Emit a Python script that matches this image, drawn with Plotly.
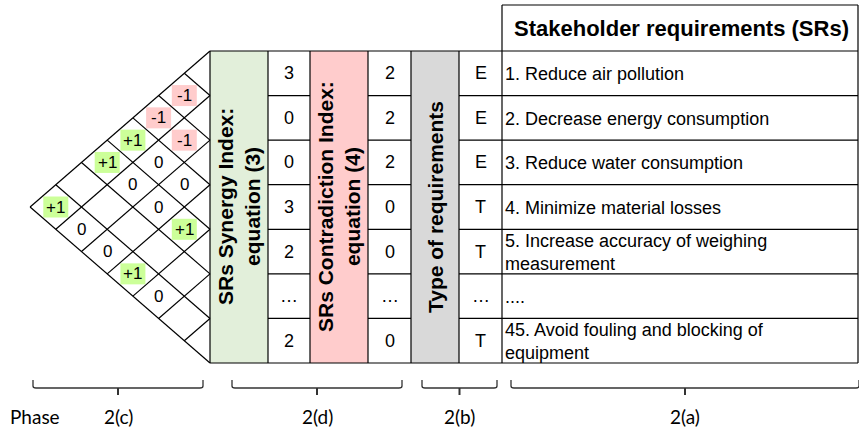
import plotly.graph_objects as go

# ---------------- data ----------------
requirements = [
    "1. Reduce air pollution",
    "2. Decrease energy consumption",
    "3. Reduce water consumption",
    "4. Minimize material losses",
    "5. Increase accuracy of weighing<br>measurement",
    "....",
    "45. Avoid fouling and blocking of<br>equipment",
]
req_type = ["E", "E", "E", "T", "T", "…", "T"]
synergy = ["3", "0", "0", "3", "2", "…", "2"]
contradiction = ["2", "2", "2", "0", "0", "…", "0"]
# upper-triangle relations: row i with requirement j > i
correlations = [
    ["-1", "-1", "+1", "+1", "", "+1"],
    ["-1", "0", "0", "", "0"],
    ["0", "0", "", "0"],
    ["+1", "", "+1"],
    ["", "0"],
    [""],
]
header = "Stakeholder requirements (SRs)"
col_titles = ["SRs Synergy Index:<br>equation (3)",
              "SRs Contradiction Index:<br>equation (4)",
              "Type of requirements"]
phase_labels = ["2(c)", "2(d)", "2(b)", "2(a)"]

# ---------------- layout geometry ----------------
W, H = 859, 430
TOP, BOT = 51, 363
N = len(requirements)
RH = (BOT - TOP) / N
XR = 210          # right edge of triangle / left edge of table
HW = 25.7         # half width of a diamond cell
cols = [210, 268, 310, 368, 411, 459, 502, 858]
HEAD_TOP = 5

LINE = dict(color="black", width=1.2)
FONT = "Liberation Sans, Arial, sans-serif"

shapes = []
annotations = []

def line(x0, y0, x1, y1, **kw):
    d = dict(LINE)
    d.update(kw)
    shapes.append(dict(type="line", xref="x", yref="y", x0=x0, y0=y0, x1=x1, y1=y1,
                       line=d, layer="above"))

def rect(x0, y0, x1, y1, fill):
    shapes.append(dict(type="rect", xref="x", yref="y", x0=x0, y0=y0, x1=x1, y1=y1,
                       fillcolor=fill, line=dict(width=0), layer="below"))

def row_y(k):
    return TOP + (k + 0.5) * RH

# coloured title columns
rect(cols[0], TOP, cols[1], BOT, "#e2efda")
rect(cols[2], TOP, cols[3], BOT, "#ffcccc")
rect(cols[4], TOP, cols[5], BOT, "#d9d9d9")

# header box
line(cols[6], HEAD_TOP, cols[7], HEAD_TOP)
line(cols[6], HEAD_TOP, cols[6], TOP)
line(cols[7], HEAD_TOP, cols[7], TOP)
annotations.append(dict(x=(cols[6] + cols[7]) / 2 + 1, y=(HEAD_TOP + TOP) / 2, text="<b>%s</b>" % header,
                        showarrow=False, font=dict(family=FONT, size=22, color="black"),
                        xanchor="center", yanchor="middle"))

# table frame
line(cols[0], TOP, cols[7], TOP)
line(cols[0], BOT, cols[7], BOT)
for c in cols:
    line(c, TOP, c, BOT)
for k in range(1, N):
    y = TOP + k * RH
    for a, b in [(cols[1], cols[2]), (cols[3], cols[4]), (cols[5], cols[7])]:
        line(a, y, b, y)

# column titles (vertical)
for i, t in enumerate(col_titles):
    cx = (cols[2 * i] + cols[2 * i + 1]) / 2
    annotations.append(dict(x=cx, y=(TOP + BOT) / 2, text="<b>%s</b>" % t, textangle=-90,
                            showarrow=False, font=dict(family=FONT, size=21, color="black"),
                            xanchor="center", yanchor="middle"))

# cell values
for k in range(N):
    y = row_y(k)
    for vals, ci in [(synergy, 1), (contradiction, 3), (req_type, 5)]:
        annotations.append(dict(x=(cols[ci] + cols[ci + 1]) / 2, y=y, text=vals[k], showarrow=False,
                                font=dict(family=FONT, size=18, color="black"),
                                xanchor="center", yanchor="middle"))
    annotations.append(dict(x=cols[6] + 1, y=y + 1, text=requirements[k], showarrow=False,
                            font=dict(family=FONT, size=18, color="black"), align="left",
                            xanchor="left", yanchor="middle"))

# triangle (roof) outline and grid
line(XR, TOP, XR - N * HW, TOP + N * RH / 2)
line(XR - N * HW, TOP + N * RH / 2, XR, BOT)
for k in range(1, N):
    y = TOP + k * RH
    line(XR, y, XR - k * HW, TOP + k * RH / 2)
    line(XR, y, XR - (N - k) * HW, y + (N - k) * RH / 2)

# relation values
for i, rowvals in enumerate(correlations):
    for off, v in enumerate(rowvals):
        j = i + 1 + off
        if v == "":
            continue
        cx = XR - (j - i) * HW
        cy = (row_y(i) + row_y(j)) / 2
        if v.startswith("+"):
            fill = "#ccff99"
        elif v.startswith("-"):
            fill = "#ffcccc"
        else:
            fill = None
        if fill:
            rect(cx - 12.5, cy - 10.5, cx + 12.5, cy + 10.5, fill)
        annotations.append(dict(x=cx, y=cy, text=v, showarrow=False,
                                font=dict(family=FONT, size=17, color="black"),
                                xanchor="center", yanchor="middle"))

# phase braces
brace_spans = [(33, 203), (232, 402), (422, 497), (511, 859)]
BR_TOP, BR_MID, BR_TICK = 380, 388, 395
for (a, b), lab in zip(brace_spans, phase_labels):
    m = (a + b) / 2
    shapes.append(dict(type="path", xref="x", yref="y",
                       path="M %f,%f L %f,%f Q %f,%f %f,%f L %f,%f Q %f,%f %f,%f L %f,%f" % (
                           a, BR_TOP, a, BR_MID - 2, a, BR_MID, a + 3, BR_MID,
                           b - 3, BR_MID, b, BR_MID, b, BR_MID - 2, b, BR_TOP),
                       line=dict(color="#333333", width=1.3)))
    line(m, BR_MID, m, BR_TICK, color="#333333", width=2)
    annotations.append(dict(x=m, y=416, text=lab, showarrow=False,
                            font=dict(family="Lato, sans-serif", size=19, color="black"),
                            xanchor="center", yanchor="middle"))
annotations.append(dict(x=35, y=416, text="Phase", showarrow=False,
                        font=dict(family="Lato, sans-serif", size=19, color="black"),
                        xanchor="center", yanchor="middle"))

fig = go.Figure()
fig.add_trace(go.Scatter(x=[0, W], y=[0, H], mode="markers", marker=dict(opacity=0),
                         hoverinfo="skip", showlegend=False))
fig.update_layout(
    width=W, height=H, autosize=False,
    margin=dict(l=0, r=0, t=0, b=0),
    paper_bgcolor="white", plot_bgcolor="white",
    xaxis=dict(range=[0, W], visible=False, fixedrange=True),
    yaxis=dict(range=[H, 0], visible=False, fixedrange=True),
    shapes=shapes, annotations=annotations, showlegend=False,
)
fig.write_html("out.html", config={"displayModeBar": False},
               post_script="document.body.style.margin='0';document.body.style.padding='0';")
